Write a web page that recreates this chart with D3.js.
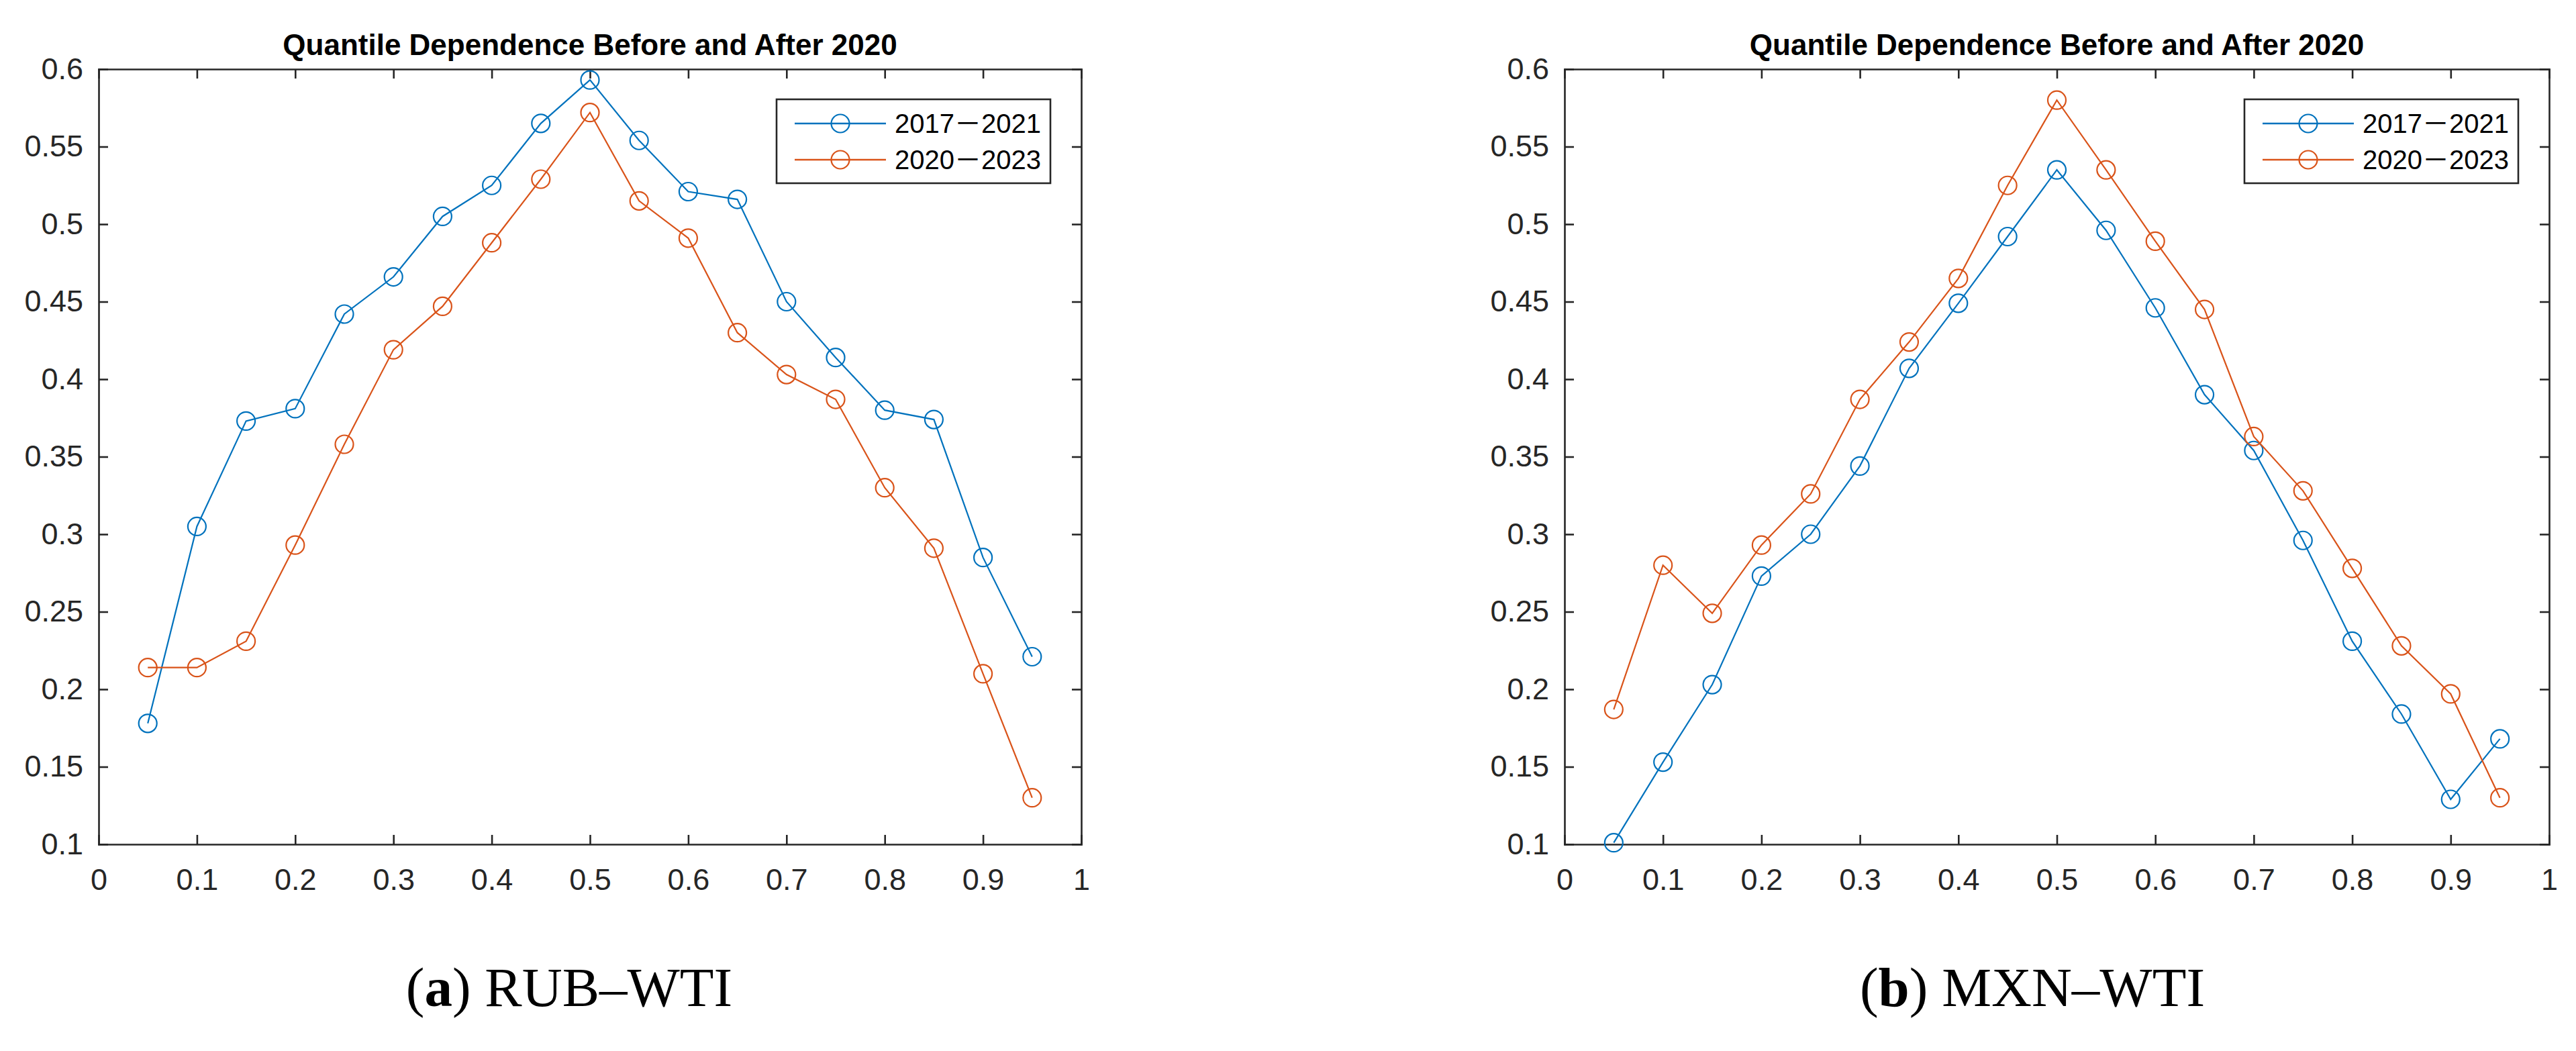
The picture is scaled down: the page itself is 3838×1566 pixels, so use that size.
<!DOCTYPE html>
<html>
<head>
<meta charset="utf-8">
<script src="https://cdnjs.cloudflare.com/ajax/libs/d3/7.8.5/d3.min.js"></script>
<style>
  body { margin: 0; background: #fff; }
  .axis path, .axis line { stroke: #262626; stroke-width: 2.6; }
  .axis text { fill: #262626; font-family: "Liberation Sans", Arial, sans-serif; font-size: 45px; }
</style>
</head>
<body>
<div id="chart"></div>
<script>
// data
var quantiles = [0.05, 0.1, 0.15, 0.2, 0.25, 0.3, 0.35, 0.4, 0.45, 0.5,
                 0.55, 0.6, 0.65, 0.7, 0.75, 0.8, 0.85, 0.9, 0.95];

var rubBefore = [0.178, 0.305, 0.373, 0.381, 0.442, 0.466, 0.505, 0.525, 0.565, 0.593,
                 0.554, 0.521, 0.516, 0.450, 0.414, 0.380, 0.374, 0.285, 0.221];
var rubAfter  = [0.214, 0.214, 0.231, 0.293, 0.358, 0.419, 0.447, 0.488, 0.529, 0.572,
                 0.515, 0.491, 0.430, 0.403, 0.387, 0.330, 0.291, 0.210, 0.130];

var mxnBefore = [0.101, 0.153, 0.203, 0.273, 0.300, 0.344, 0.407, 0.449, 0.492, 0.535,
                 0.496, 0.446, 0.390, 0.354, 0.296, 0.231, 0.184, 0.129, 0.168];
var mxnAfter  = [0.187, 0.280, 0.249, 0.293, 0.326, 0.387, 0.424, 0.465, 0.525, 0.580,
                 0.535, 0.489, 0.445, 0.363, 0.328, 0.278, 0.228, 0.197, 0.130];

var seriesNames = ["2017\uFF0D2021", "2020\uFF0D2023"];
var seriesColors = ["#0072BD", "#D95319"];

var xTicks = [0, 0.1, 0.2, 0.3, 0.4, 0.5, 0.6, 0.7, 0.8, 0.9, 1];
var yTicks = [0.1, 0.15, 0.2, 0.25, 0.3, 0.35, 0.4, 0.45, 0.5, 0.55, 0.6];

var chartTitle = "Quantile Dependence Before and After 2020";

var W = 3838, H = 1566;

var svg = d3.select("#chart").append("svg")
    .attr("width", W)
    .attr("height", H);

function drawPanel(left, right, top, bottom, before, after, letter, pair, captionX) {
    var g = svg.append("g");

    var x = d3.scaleLinear().domain([0, 1]).range([left, right]);
    var y = d3.scaleLinear().domain([0.1, 0.6]).range([bottom, top]);

    var fmt = function(d){ return String(+d.toFixed(2)); };

    // box axes with inward ticks
    g.append("g").attr("class", "axis")
        .attr("transform", "translate(0," + bottom + ")")
        .call(d3.axisBottom(x).tickValues(xTicks).tickFormat(fmt)
            .tickSizeInner(-14).tickSizeOuter(0).tickPadding(36));
    g.append("g").attr("class", "axis")
        .attr("transform", "translate(0," + top + ")")
        .call(d3.axisTop(x).tickValues(xTicks).tickFormat("")
            .tickSizeInner(-14).tickSizeOuter(0));
    g.append("g").attr("class", "axis")
        .attr("transform", "translate(" + left + ",0)")
        .call(d3.axisLeft(y).tickValues(yTicks).tickFormat(fmt)
            .tickSizeInner(-14).tickSizeOuter(0).tickPadding(23));
    g.append("g").attr("class", "axis")
        .attr("transform", "translate(" + right + ",0)")
        .call(d3.axisRight(y).tickValues(yTicks).tickFormat("")
            .tickSizeInner(-14).tickSizeOuter(0));

    g.selectAll(".axis .domain").attr("stroke-linecap", "square");

    // title
    g.append("text")
        .attr("x", (left + right) / 2)
        .attr("y", 82)
        .attr("text-anchor", "middle")
        .style("font-family", "'Liberation Sans', Arial, sans-serif")
        .style("font-weight", "bold")
        .style("font-size", "44px")
        .style("fill", "#000")
        .text(chartTitle);

    var line = d3.line()
        .x(function(d, i){ return x(quantiles[i]); })
        .y(function(d){ return y(d); });

    [before, after].forEach(function(vals, k) {
        g.append("path")
            .datum(vals)
            .attr("d", line)
            .attr("fill", "none")
            .attr("stroke", seriesColors[k])
            .attr("stroke-width", 2.2);

        g.selectAll(".m" + k)
            .data(vals)
            .enter().append("circle")
            .attr("class", "m" + k)
            .attr("cx", function(d, i){ return x(quantiles[i]); })
            .attr("cy", function(d){ return y(d); })
            .attr("r", 13.5)
            .attr("fill", "none")
            .attr("stroke", seriesColors[k])
            .attr("stroke-width", 2.2);
    });

    // legend
    var lgW = 408, lgH = 125;
    var lgX = right - 46 - lgW, lgY = top + 45;
    var lg = g.append("g").attr("transform", "translate(" + lgX + "," + lgY + ")");
    lg.append("rect")
        .attr("width", lgW).attr("height", lgH)
        .attr("fill", "#fff")
        .attr("stroke", "#262626").attr("stroke-width", 2.6);

    seriesNames.forEach(function(name, k) {
        var ry = 36 + k * 54;
        lg.append("line")
            .attr("x1", 27).attr("x2", 163)
            .attr("y1", ry).attr("y2", ry)
            .attr("stroke", seriesColors[k]).attr("stroke-width", 2.6);
        lg.append("circle")
            .attr("cx", 95).attr("cy", ry).attr("r", 13.5)
            .attr("fill", "none")
            .attr("stroke", seriesColors[k]).attr("stroke-width", 2.2);
        lg.append("text")
            .attr("x", 176).attr("y", ry)
            .attr("dy", "0.36em")
            .style("font-family", "'Liberation Sans', Arial, 'Noto Sans CJK SC', sans-serif")
            .style("font-size", "40px")
            .style("fill", "#000")
            .text(name);
    });

    // sub-caption under the panel
    var cap = svg.append("text")
        .attr("x", captionX)
        .attr("y", 1499)
        .attr("text-anchor", "middle")
        .style("font-family", "'Liberation Serif', 'Times New Roman', serif")
        .style("font-size", "83px")
        .style("fill", "#000");
    cap.append("tspan").text("(");
    cap.append("tspan").style("font-weight", "bold").text(letter);
    cap.append("tspan").text(") " + pair);
}

drawPanel(147, 1611, 103, 1258, rubBefore, rubAfter, "a", "RUB\u2013WTI", 848);
drawPanel(2331, 3798, 103, 1258, mxnBefore, mxnAfter, "b", "MXN\u2013WTI", 3028);
</script>
</body>
</html>
